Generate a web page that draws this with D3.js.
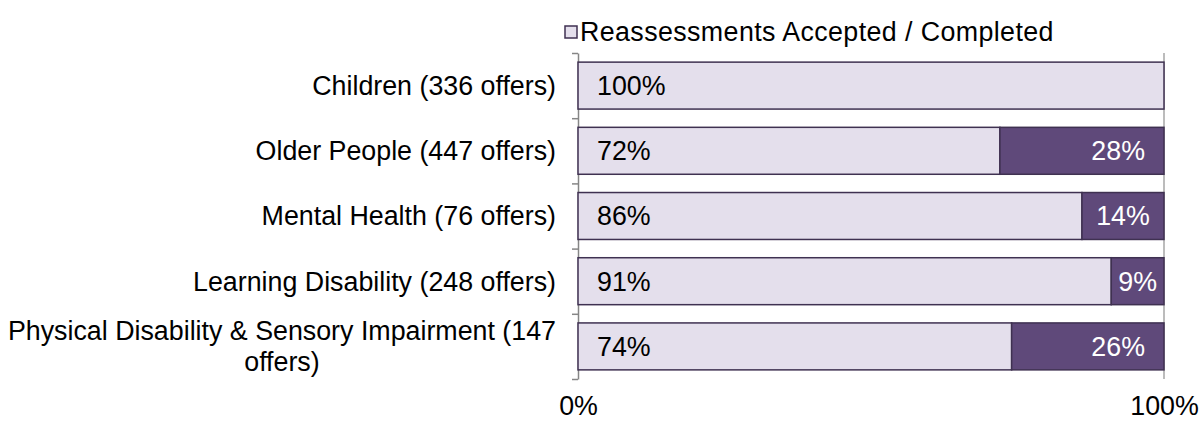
<!DOCTYPE html>
<html>
<head>
<meta charset="utf-8">
<script src="https://cdn.jsdelivr.net/npm/d3@7"></script>
<style>
  body { margin: 0; background: #fff; }
  svg { display: block; font-family: "Liberation Sans", Arial, sans-serif; }
</style>
</head>
<body>
<div id="chart"></div>
<script>
// chart data
const categories = [
  "Children (336 offers)",
  "Older People (447 offers)",
  "Mental Health (76 offers)",
  "Learning Disability (248 offers)",
  "Physical Disability & Sensory Impairment (147 offers)"
];
const accepted = [100, 72, 86, 91, 74];
const declined = [0, 28, 14, 9, 26];
const legendLabel = "Reassessments Accepted / Completed";
const xTicks = [0, 100];

const svgWidth = 1200;
const svgHeight = 421;
const fontSize = 26.8;

const lightFill = "#e4dfec";
const darkFill = "#5f497a";
const barStroke = "#3f3151";

const svg = d3.select("#chart")
  .append("svg")
  .attr("width", svgWidth)
  .attr("height", svgHeight);

// scales
const x = d3.scaleLinear().domain([0, 100]).range([578, 1164]);
const y = d3.scaleBand()
  .domain(categories)
  .range([53, 379])
  .paddingInner(0.28)
  .paddingOuter(0.14);

// boundary scale for the category axis ticks
const yEdge = d3.scaleLinear().domain([0, categories.length]).range([53, 379]);

// gridline at 100%
svg.append("line")
  .attr("x1", x(100)).attr("x2", x(100))
  .attr("y1", yEdge(0)).attr("y2", yEdge(categories.length))
  .attr("stroke", "#a6a6a6")
  .attr("stroke-width", 1.5);

// left axis with ticks between categories
const yAxis = svg.append("g")
  .attr("transform", `translate(${x(0)},0)`)
  .call(d3.axisLeft(yEdge)
    .tickValues(d3.range(categories.length + 1))
    .tickFormat("")
    .tickSize(6)
    .tickSizeOuter(0));
yAxis.selectAll("path, line").attr("stroke", "#868686").attr("stroke-width", 1.5);

// bars
const rows = categories.map((c, i) => ({ cat: c, a: accepted[i], d: declined[i] }));

const bars = svg.append("g").selectAll("g")
  .data(rows)
  .enter()
  .append("g");

bars.append("rect")
  .attr("x", x(0))
  .attr("y", d => y(d.cat))
  .attr("width", d => x(d.a) - x(0))
  .attr("height", y.bandwidth())
  .attr("fill", lightFill)
  .attr("stroke", barStroke)
  .attr("stroke-width", 1.5);

bars.append("rect")
  .attr("x", d => x(d.a))
  .attr("y", d => y(d.cat))
  .attr("width", d => x(d.a + d.d) - x(d.a))
  .attr("height", y.bandwidth())
  .attr("fill", darkFill)
  .attr("stroke", barStroke)
  .attr("stroke-width", d => d.d > 0 ? 1.5 : 2.5);

// value labels
bars.append("text")
  .attr("x", x(0) + 19)
  .attr("y", d => y(d.cat) + y.bandwidth() / 2)
  .attr("dy", "0.35em")
  .attr("font-size", fontSize)
  .attr("fill", "#000")
  .text(d => d.a + "%");

bars.filter(d => d.d > 0).append("text")
  .attr("y", d => y(d.cat) + y.bandwidth() / 2)
  .attr("dy", "0.35em")
  .attr("font-size", fontSize)
  .attr("fill", "#fff")
  .attr("text-anchor", "middle")
  .text(d => d.d + "%")
  .attr("x", function(d) {
    const w = this.getComputedTextLength();
    const s = x(d.a), e = x(d.a + d.d);
    return Math.max((s + e) / 2, e - 19 - w / 2);
  });

// category labels, wrapped like the original
const labelRight = 556;
const maxLabelWidth = 560;
const lineGap = 31;

svg.append("g").selectAll("g")
  .data(categories)
  .enter()
  .append("g")
  .each(function(c) {
    const g = d3.select(this);
    const words = c.split(" ");
    const probe = g.append("text").attr("font-size", fontSize);
    const lines = [];
    let line = [];
    words.forEach(w => {
      line.push(w);
      probe.text(line.join(" "));
      if (probe.node().getComputedTextLength() > maxLabelWidth && line.length > 1) {
        line.pop();
        lines.push(line.join(" "));
        line = [w];
      }
    });
    lines.push(line.join(" "));
    const widths = lines.map(l => { probe.text(l); return probe.node().getComputedTextLength(); });
    probe.remove();
    const maxW = d3.max(widths);
    const cx = labelRight - maxW / 2;
    const cy = y(c) + y.bandwidth() / 2;
    const top = cy - (lines.length - 1) * lineGap / 2;
    lines.forEach((l, i) => {
      g.append("text")
        .attr("x", cx)
        .attr("y", top + i * lineGap)
        .attr("dy", "0.35em")
        .attr("text-anchor", "middle")
        .attr("font-size", fontSize)
        .attr("fill", "#000")
        .text(l);
    });
  });

// bottom tick labels
const xAxis = svg.append("g")
  .attr("transform", "translate(0,396)")
  .call(d3.axisBottom(x)
    .tickValues(xTicks)
    .tickFormat(d => d + "%")
    .tickSize(0)
    .tickPadding(0));
xAxis.select(".domain").remove();
xAxis.selectAll("text")
  .attr("font-size", fontSize)
  .attr("font-family", "Liberation Sans, Arial, sans-serif")
  .attr("fill", "#000")
  .attr("dy", "0.7em");

// legend
const legend = svg.append("g").attr("transform", "translate(565,24)");
legend.append("rect")
  .attr("width", 12)
  .attr("height", 12)
  .attr("y", 2)
  .attr("fill", lightFill)
  .attr("stroke", barStroke)
  .attr("stroke-width", 1.5);
legend.append("text")
  .attr("x", 15)
  .attr("y", 8)
  .attr("dy", "0.35em")
  .attr("font-size", fontSize)
  .attr("letter-spacing", 0.4)
  .attr("fill", "#000")
  .text(legendLabel);
</script>
</body>
</html>
